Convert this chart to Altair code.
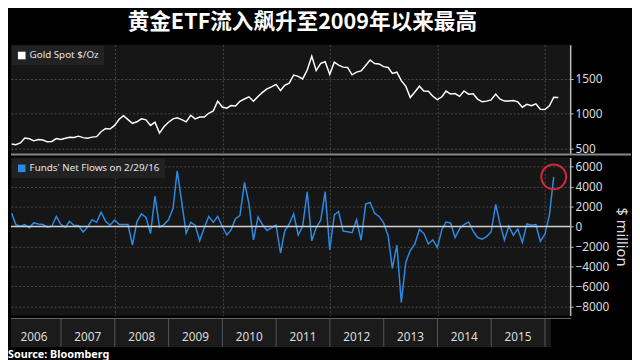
import altair as alt
import pandas as pd

# ---------------- data ----------------
gold_values = [
    569, 557, 582, 654, 643, 613, 633, 624, 599, 604, 646, 632,      # 2006
    651, 665, 662, 680, 659, 650, 666, 673, 743, 790, 783, 834,      # 2007
    923, 972, 917, 864, 886, 928, 914, 834, 880, 724, 815, 880,      # 2008
    928, 942, 916, 884, 979, 927, 955, 955, 1008, 1040, 1182, 1097,  # 2009
    1081, 1118, 1113, 1180, 1212, 1244, 1181, 1248, 1307, 1357, 1386, 1421,  # 2010
    1333, 1409, 1439, 1556, 1536, 1500, 1628, 1826, 1620, 1722, 1746, 1566,  # 2011
    1740, 1697, 1669, 1664, 1559, 1598, 1615, 1692, 1772, 1720, 1714, 1676,  # 2012
    1664, 1578, 1596, 1476, 1393, 1234, 1313, 1396, 1327, 1323, 1253, 1202,  # 2013
    1244, 1326, 1284, 1291, 1250, 1327, 1282, 1287, 1211, 1172, 1182, 1199,  # 2014
    1283, 1213, 1183, 1183, 1190, 1172, 1095, 1135, 1115, 1142, 1065, 1061,  # 2015
    1116, 1238, 1235,                                                # 2016
]

flow_values = [
    1330, 195, 30, 195, -130, 360, 260, 195, -65, 30, 1010, 195,          # 2006
    -65, 520, 100, 100, -550, -65, 680, 420, 1430, 520, 130, 650,         # 2007
    195, 195, 195, -1850, 490, 1270, 910, -715, 3050, -65, 195, 680,      # 2008
    1820, 5560, 2440, -680, 420, 130, -1430, -130, 1010, 420, 1010, 30,   # 2009
    -850, -360, 780, 1100, 4420, 2310, -1330, 940, 195, -390, -130, 130,  # 2010
    -2670, -455, 260, 1270, -850, 30, 3480, -1430, -130, 650, 3480, -2340,  # 2011
    1170, 1500, -455, -520, -620, 680, -1370, 2240, 2400, 1330, 1010, 360,  # 2012
    -940, -4190, -1850, -7600, -3540, -2400, -1750, -290, -680, -1750, -1330, -2080,  # 2013
    -290, 455, 360, -1100, -230, 195, 455, -455, -1100, -1270, -1010, -550,  # 2014
    2210, 360, -1370, 30, -880, -230, -1590, 260, 130, 195, -1500, -780,  # 2015
    1170, 4970,                                                           # 2016
]

years = [2006, 2007, 2008, 2009, 2010, 2011, 2012, 2013, 2014, 2015]
gold_ticks = [500, 1000, 1500]
flow_ticks = [-8000, -6000, -4000, -2000, 0, 2000, 4000, 6000]
grid_years = [2008, 2010, 2012, 2014, 2016]

title_text = "黄金ETF流入飙升至2009年以来最高"
gold_label = "Gold Spot $/Oz"
flow_label = "Funds' Net Flows on 2/29/16"
source_text = "Source: Bloomberg"


def month_ends(n):
    d = pd.date_range("2006-01-01", periods=n, freq="MS") + pd.offsets.MonthEnd(0)
    return [x.strftime("%Y-%m-%dT00:00:00") for x in d]


gold_df = pd.DataFrame({"date": month_ends(len(gold_values)), "v": gold_values, "s": gold_label})
flow_df = pd.DataFrame({"date": month_ends(len(flow_values)), "v": flow_values, "s": flow_label})
last_df = flow_df.tail(1)
cell_df = pd.DataFrame({
    "start": [f"{y}-01-01T00:00:00" for y in years] + ["2016-01-01T00:00:00"],
    "end": [f"{y + 1}-01-01T00:00:00" for y in years] + ["2016-02-10T00:00:00"],
    "mid": [f"{y}-07-02T00:00:00" for y in years] + ["2016-01-20T00:00:00"],
    "label": [str(y) for y in years] + [""],
})
one = pd.DataFrame({"t": [source_text]})

# ---------------- layout ----------------
W = 570
FONT = "Noto Sans"
BLUE = "#2b8be4"
GRID = "#4a4a4a"

xdom = [alt.DateTime(year=2006, month=1, date=26), alt.DateTime(year=2016, month=6, date=20)]
xscale = alt.Scale(domain=xdom)
xaxis_grid = alt.Axis(
    values=[alt.DateTime(year=y, month=1, date=1) for y in grid_years],
    labels=False, ticks=False, domain=False, grid=True, title=None,
    gridColor=GRID, gridDash=[2, 2], minExtent=0, maxExtent=0,
)


def yaxis(values, title=None):
    return alt.Axis(
        orient="right", values=values, format="d", title=title,
        grid=True, gridColor=GRID, gridDash=[2, 2],
        domainColor="#bdbdbd", domainWidth=1.5, tickColor="#bdbdbd", tickSize=3,
        labelColor="#dddddd", labelFontSize=12, labelFont=FONT, labelPadding=2,
        labelOverlap=False, labelBound=False,
        titleColor="#dddddd", titleFontSize=15, titleFont=FONT,
        titleFontWeight="normal", titlePadding=5,
    )


def legend(fill):
    return alt.Legend(
        orient="top-left", title=None, offset=1, padding=5,
        fillColor="#222222", labelColor="#e6e6e6", labelFontSize=10, labelFont=FONT,
        symbolType="square", symbolSize=60, symbolFillColor=fill, symbolStrokeWidth=0,
        labelOffset=3,
    )


gold_line = alt.Chart(gold_df).mark_line(strokeWidth=1.5).encode(
    x=alt.X("date:T", scale=xscale, axis=xaxis_grid),
    y=alt.Y("v:Q", scale=alt.Scale(domain=[430, 1990], nice=False, zero=False),
            axis=yaxis(gold_ticks)),
    color=alt.Color("s:N", scale=alt.Scale(domain=[gold_label], range=["#ffffff"]),
                    legend=legend("#ffffff")),
)
separator = alt.Chart(one).mark_rule(color="#8a8a8a", strokeWidth=2).encode(
    x=alt.value(0), x2=alt.value(632), y=alt.value(112)
)
top = alt.layer(gold_line, separator).properties(width=W, height=111)

flow_y = alt.Scale(domain=[-8900, 6900], nice=False)
flow_axis = yaxis(flow_ticks, "$ million")
flow_line = alt.Chart(flow_df).mark_line(strokeWidth=1.5).encode(
    x=alt.X("date:T", scale=xscale, axis=xaxis_grid),
    y=alt.Y("v:Q", scale=flow_y, axis=flow_axis),
    color=alt.Color("s:N", scale=alt.Scale(domain=[flow_label], range=[BLUE]),
                    legend=legend(BLUE)),
)
zero_rule = alt.Chart(one).mark_rule(color="#d0d0d0", strokeWidth=1.5).encode(
    y=alt.datum(0, scale=flow_y, axis=flow_axis)
)
circle = alt.Chart(last_df).mark_point(
    shape="circle", size=640, filled=False, color="#d9263c", strokeWidth=2, opacity=1
).encode(x=alt.X("date:T", scale=xscale, axis=xaxis_grid),
         y=alt.Y("v:Q", scale=flow_y, axis=flow_axis))
bottom = alt.layer(flow_line, zero_rule, circle).properties(width=W, height=161)

cells = alt.Chart(cell_df).mark_rect(fill="#1b1b1b", clip=True).encode(
    x=alt.X("start:T", scale=xscale, axis=None), x2="end:T",
    y=alt.value(0), y2=alt.value(29),
)
seps = alt.Chart(cell_df).mark_rule(color="#5a5a5a", strokeWidth=1, clip=True).encode(
    x=alt.X("start:T", scale=xscale, axis=None), y=alt.value(0), y2=alt.value(29)
)
labels = alt.Chart(cell_df).mark_text(
    color="#dddddd", fontSize=12, font=FONT, baseline="middle", clip=True
).encode(x=alt.X("mid:T", scale=xscale, axis=None), y=alt.value(19), text="label:N")
topline = alt.Chart(one).mark_rule(color="#6a6a6a", strokeWidth=1).encode(
    x=alt.value(0), x2=alt.value(W + 1), y=alt.value(0)
)
source = alt.Chart(one).mark_text(
    color="#ffffff", fontSize=11, font=FONT, fontWeight="bold", align="left", baseline="middle"
).encode(x=alt.value(-3), y=alt.value(37), text="t:N")
axis_row = alt.layer(cells, seps, labels, topline, source).properties(
    width=W, height=29, view=alt.ViewBackground(fill="#000000", stroke=None)
)

chart = alt.vconcat(top, bottom, axis_row, spacing=2).resolve_scale(
    color="independent", y="independent"
).resolve_legend(color="independent").properties(
    title=alt.TitleParams(
        title_text, fontSize=22, font="Noto Sans CJK SC", fontWeight="bold",
        color="#ffffff", anchor="middle", dx=-18, dy=-2, offset=9,
    ),
    background="#000000",
    padding=0,
).configure_view(fill="#161616", stroke=None)

chart.save("out.html", embed_options={"renderer": "svg", "actions": False})
